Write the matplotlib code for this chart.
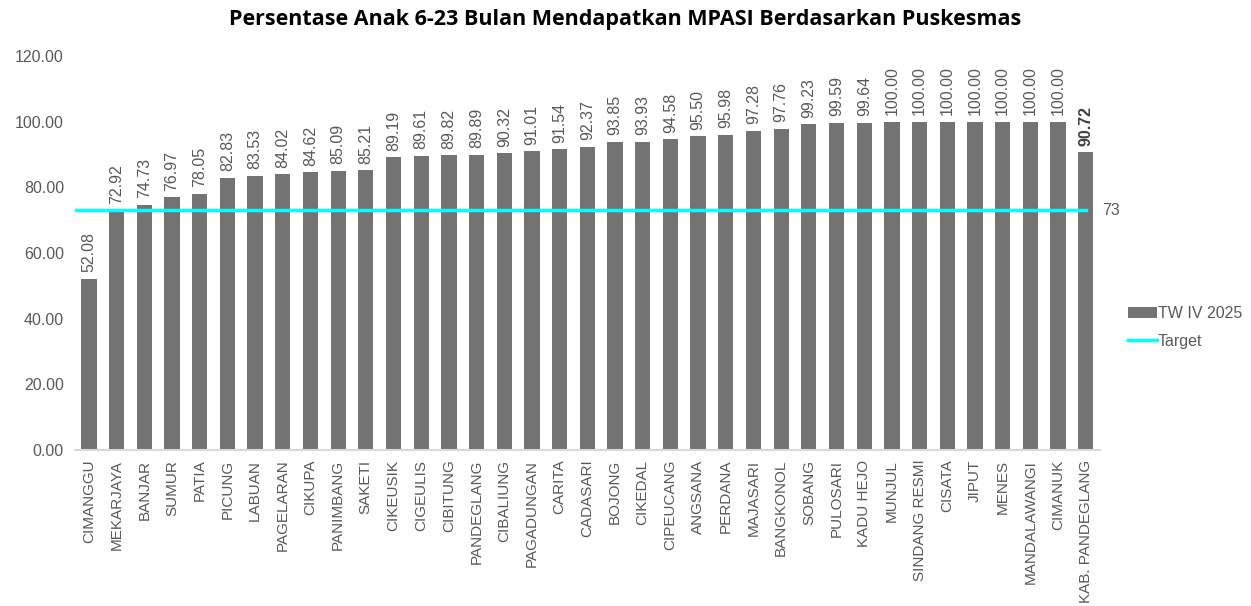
import matplotlib
matplotlib.use("Agg")
import matplotlib.pyplot as plt
from matplotlib.lines import Line2D
from matplotlib.patches import Patch

plt.rcParams["font.family"] = ["Liberation Sans", "DejaVu Sans"]

# data
puskesmas = ["CIMANGGU", "MEKARJAYA", "BANJAR", "SUMUR", "PATIA", "PICUNG", "LABUAN",
             "PAGELARAN", "CIKUPA", "PANIMBANG", "SAKETI", "CIKEUSIK", "CIGEULIS",
             "CIBITUNG", "PANDEGLANG", "CIBALIUNG", "PAGADUNGAN", "CARITA", "CADASARI",
             "BOJONG", "CIKEDAL", "CIPEUCANG", "ANGSANA", "PERDANA", "MAJASARI",
             "BANGKONOL", "SOBANG", "PULOSARI", "KADU HEJO", "MUNJUL", "SINDANG RESMI",
             "CISATA", "JIPUT", "MENES", "MANDALAWANGI", "CIMANUK", "KAB. PANDEGLANG"]
tw_iv_2025 = [52.08, 72.92, 74.73, 76.97, 78.05, 82.83, 83.53, 84.02, 84.62, 85.09, 85.21,
              89.19, 89.61, 89.82, 89.89, 90.32, 91.01, 91.54, 92.37, 93.85, 93.93, 94.58,
              95.50, 95.98, 97.28, 97.76, 99.23, 99.59, 99.64, 100.00, 100.00, 100.00,
              100.00, 100.00, 100.00, 100.00, 90.72]
target = 73
yticks = [0, 20, 40, 60, 80, 100, 120]

bar_col = "#737373"
txt_col = "#595959"
cyan = "#00FFFF"

fig = plt.figure(figsize=(12.51, 6.06), dpi=100)
ax = fig.add_axes([0.06, 0.2574, 0.819, 0.6502])

x = list(range(len(puskesmas)))
ax.bar(x, tw_iv_2025, width=0.55, color=bar_col, zorder=2)
ax.plot([-0.5, x[-1]], [target, target], color=cyan, linewidth=2.5, zorder=3)
ax.text(x[-1] + 0.6, target, str(target), color=txt_col, fontsize=11.5, va="center", ha="left")

for i, v in enumerate(tw_iv_2025):
    last = (i == len(tw_iv_2025) - 1)
    ax.text(i, v + 2, "%.2f" % v, rotation=90, ha="center", va="bottom",
            fontsize=11.5, color="#404040" if last else txt_col,
            fontweight="bold" if last else "normal")

ax.set_xlim(-0.5, len(puskesmas) - 0.5)
ax.set_ylim(0, 120)
ax.set_yticks(yticks)
ax.set_yticklabels(["%.2f" % t for t in yticks], fontsize=11.5, color=txt_col)
ax.set_xticks(x)
ax.set_xticklabels(puskesmas, rotation=90, fontsize=11, color=txt_col)
ax.tick_params(axis="y", length=0, pad=8)
ax.tick_params(axis="x", length=0, pad=7)

for s in ["top", "right", "left"]:
    ax.spines[s].set_visible(False)
ax.spines["bottom"].set_color("#d9d9d9")
ax.spines["bottom"].set_linewidth(1.5)

fig.suptitle("Persentase Anak 6-23 Bulan Mendapatkan MPASI Berdasarkan Puskesmas",
             x=0.5, y=0.985, fontsize=15.5, fontweight="bold", family="Open Sans")

handles = [Patch(facecolor=bar_col, label="TW IV 2025"),
           Line2D([0], [0], color=cyan, linewidth=2.5, label="Target")]
fig.legend(handles=handles, loc="center left", bbox_to_anchor=(0.89, 0.46), frameon=False,
           fontsize=11.5, labelcolor=txt_col, handlelength=1.8, handletextpad=0.1,
           labelspacing=0.8)

fig.savefig("out.png", dpi=100)
